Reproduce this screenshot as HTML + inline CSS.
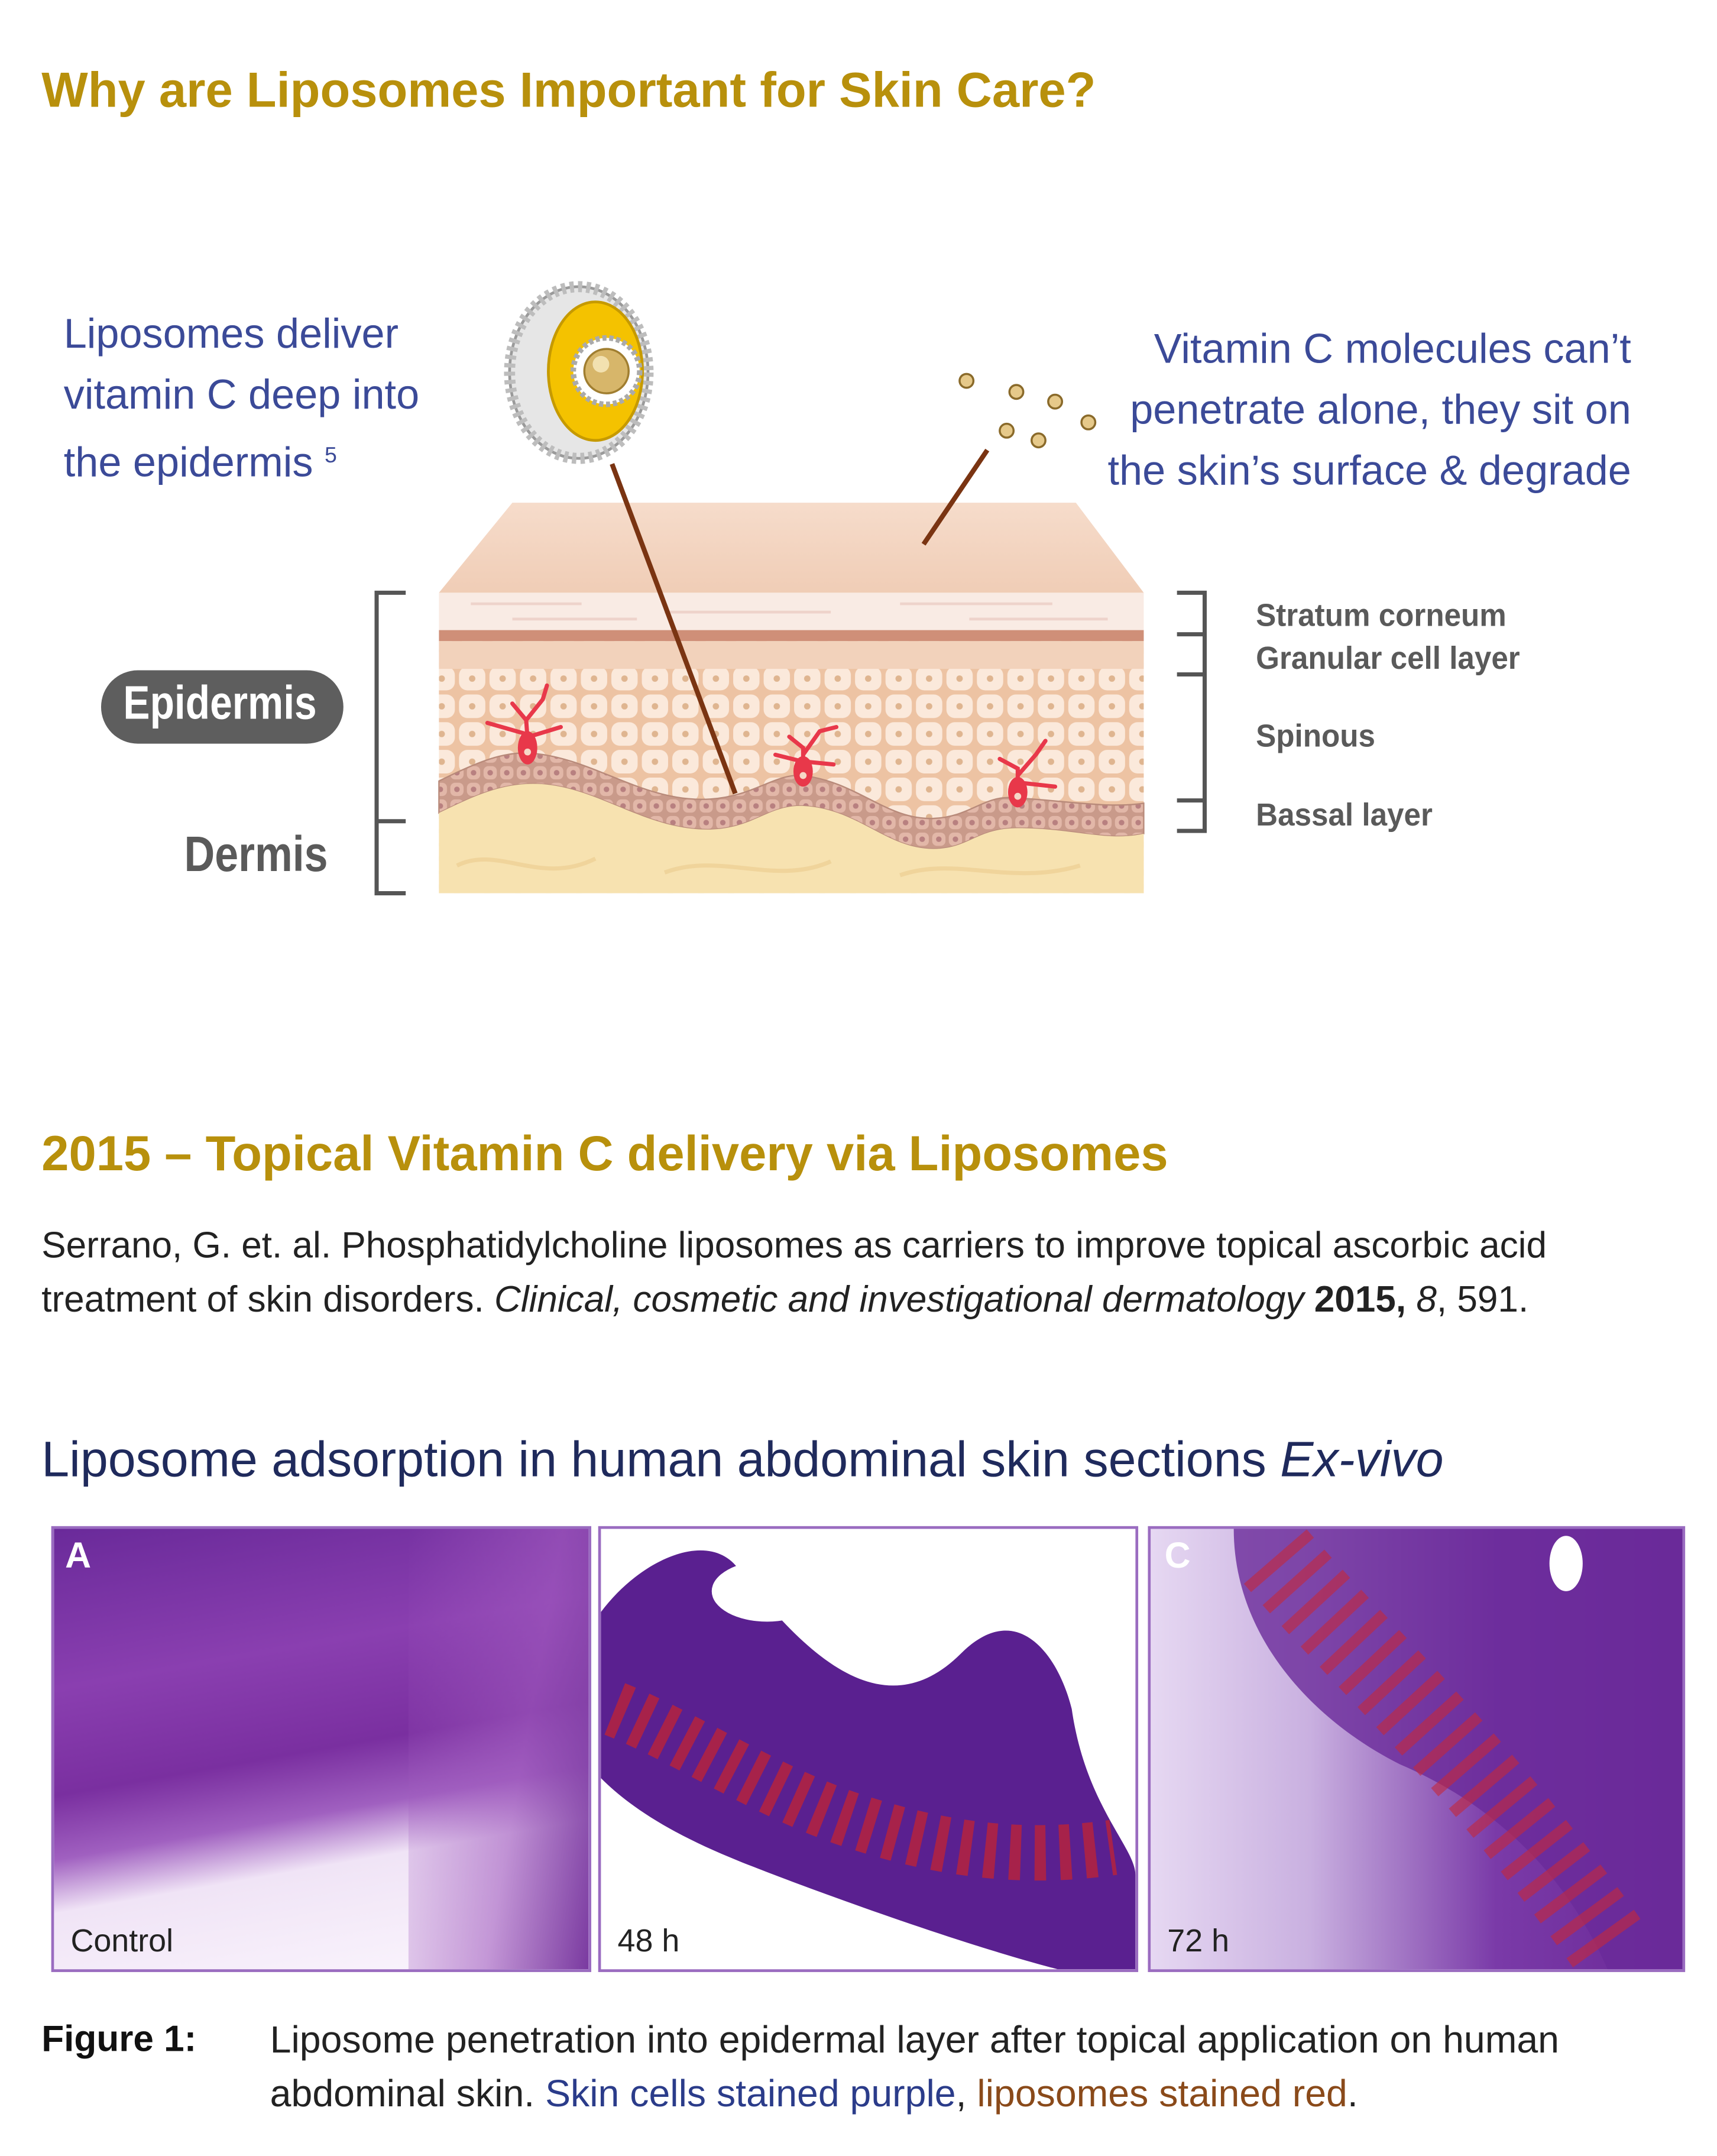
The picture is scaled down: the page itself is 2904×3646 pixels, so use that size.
<!DOCTYPE html>
<html><head><meta charset="utf-8"><style>
html,body{margin:0;padding:0;background:#fff;}
body{width:2904px;height:3645px;overflow:hidden;position:relative;}
#w{position:absolute;left:0;top:0;width:1240px;height:1557px;transform:scale(2.34194);transform-origin:0 0;font-family:"Liberation Sans","DejaVu Sans",sans-serif;}
.t{position:absolute;white-space:nowrap;}
.gold{color:#b8900c;font-weight:bold;font-size:35.5px;}
.blue{color:#3b4a98;font-size:30px;line-height:44px;}
.lab{color:#5a5a5a;font-weight:bold;font-size:23px;transform:scaleX(.95);transform-origin:0 0;}
.ph{position:absolute;border:2px solid #9a6cc0;overflow:hidden;}
.ph span{position:absolute;font-weight:bold;}
</style></head><body><div id="w">
<div class="t gold" style="left:30px;top:45px;">Why are Liposomes Important for Skin Care?</div>
<div class="t blue" style="left:46px;top:220px;">Liposomes deliver<br>vitamin C deep into<br>the epidermis <sup style="font-size:16px;vertical-align:10px">5</sup></div>
<div class="t blue" style="right:62px;top:231px;text-align:right;">Vitamin C molecules can’t<br>penetrate alone, they sit on<br>the skin’s surface &amp; degrade</div>

<svg style="position:absolute;left:0;top:0" width="1240" height="700" viewBox="0 0 1240 700">
<defs>
<linearGradient id="tf" x1="0" y1="0" x2="0" y2="1"><stop offset="0" stop-color="#f6dccb"/><stop offset="1" stop-color="#f0cdb6"/></linearGradient>
<pattern id="cells" width="22" height="20" patternUnits="userSpaceOnUse"><rect width="22" height="20" fill="#edc3a3"/><rect x="1.5" y="1.5" width="19" height="17" rx="6" fill="#fbe9db"/><circle cx="11" cy="10" r="2.3" fill="#dfb590"/></pattern>
<pattern id="basal" width="12" height="12" patternUnits="userSpaceOnUse"><rect width="12" height="12" fill="#c99a8a"/><rect x="1.2" y="1.2" width="9.6" height="9.6" rx="3.5" fill="#e2b7a8"/><circle cx="6" cy="6" r="2" fill="#b88080"/></pattern>
</defs>
<polygon points="317,428 826,428 777,363 370,363" fill="url(#tf)"/>
<rect x="317" y="428" width="509" height="27" fill="#f9ebe4"/>
<g stroke="#eed3cb" stroke-width="2"><line x1="340" y1="436" x2="420" y2="436"/><line x1="480" y1="442" x2="600" y2="442"/><line x1="650" y1="436" x2="760" y2="436"/><line x1="370" y1="447" x2="460" y2="447"/><line x1="700" y1="447" x2="800" y2="447"/></g>
<rect x="317" y="455" width="509" height="8" fill="#cf8f78"/>
<rect x="317" y="463" width="509" height="182" fill="url(#cells)"/>
<rect x="317" y="463" width="509" height="20" fill="#f2d2bb"/>
<path d="M317,564 C345,550 365,542 385,544 C430,548 465,580 513,577 C545,575 560,558 580,560 C620,565 640,592 674,591 C700,590 710,575 730,576 C770,578 800,584 826,580 V602 C800,608 775,598 735,598 C705,598 700,613 674,613 C640,613 620,584 580,582 C555,581 545,598 513,599 C465,600 430,566 385,566 C360,566 340,576 317,587 Z" fill="url(#basal)" stroke="#b88a7a" stroke-width="1"/>
<path d="M317,587 C340,576 360,566 385,566 C430,566 465,600 513,599 C545,598 555,581 580,582 C620,584 640,613 674,613 C700,613 705,598 735,598 C775,598 800,608 826,602 V645 H317 Z" fill="#f7e2b0"/>
<g stroke="#eccf93" stroke-width="3" fill="none" opacity=".7"><path d="M330,625 C360,610 390,640 430,620"/><path d="M480,630 C520,615 560,640 600,622"/><path d="M650,632 C690,618 730,640 780,625"/></g>
<g stroke="#e8384a" stroke-width="3" fill="none" stroke-linecap="round"><path d="M382,548 L380,520 L370,508 M380,520 L392,505 L395,495 M380,530 L352,522 M382,532 L405,525"/><path d="M580,563 L580,540 L570,532 M580,545 L592,528 M580,550 L560,545 M582,550 L602,552 M592,528 L604,525"/><path d="M735,578 L735,555 L722,548 M735,560 L748,545 L755,535 M735,565 L762,568"/></g>
<g fill="#e8384a"><ellipse cx="381" cy="540" rx="7" ry="12"/><ellipse cx="580" cy="557" rx="7" ry="11"/><ellipse cx="735" cy="572" rx="7" ry="11"/></g>
<g fill="#f6d7c7"><circle cx="381" cy="543" r="2.5"/><circle cx="580" cy="560" r="2.5"/><circle cx="735" cy="575" r="2.5"/></g>
<line x1="442" y1="335" x2="531" y2="573" stroke="#7a3412" stroke-width="3.5"/>
<line x1="713" y1="325" x2="667" y2="393" stroke="#7a3412" stroke-width="3.5"/>
<g fill="#e6c98a" stroke="#8a6a2a" stroke-width="1.5"><circle cx="698" cy="275" r="5"/><circle cx="734" cy="283" r="5"/><circle cx="762" cy="290" r="5"/><circle cx="786" cy="305" r="5"/><circle cx="727" cy="311" r="5"/><circle cx="750" cy="318" r="5"/></g>
<ellipse cx="418" cy="269" rx="50" ry="62" fill="#e6e6e6" stroke="#9a9a9a" stroke-width="2"/>
<ellipse cx="418" cy="269" rx="50" ry="62" fill="none" stroke="#bdbdbd" stroke-width="8" stroke-dasharray="3 3"/>
<ellipse cx="430" cy="268" rx="34" ry="50" fill="#f4c200" stroke="#c69a00" stroke-width="2"/>
<circle cx="438" cy="268" r="24" fill="#fff" stroke="#aaa" stroke-width="4" stroke-dasharray="3 2"/>
<circle cx="438" cy="268" r="16" fill="#d7b66a" stroke="#a07e30" stroke-width="1.5"/>
<circle cx="434" cy="263" r="6" fill="#f2e1b0"/>
<g stroke="#555" stroke-width="3" fill="none">
<path d="M293,428 H272 V645 H293"/><path d="M272,593 H293"/>
<path d="M850,428 H870 V600 H850"/><path d="M850,458 H870"/><path d="M850,487 H870"/><path d="M850,578 H870"/>
</g>
<rect x="73" y="484" width="175" height="53" rx="26.5" fill="#5e5e5e"/>
</svg>
<div class="t" style="left:89px;top:489px;color:#fff;font-weight:bold;font-size:34px;transform:scaleX(.85);transform-origin:0 0;">Epidermis</div>
<div class="t" style="left:133px;top:596px;color:#5a5a5a;font-weight:bold;font-size:36px;transform:scaleX(.85);transform-origin:0 0;">Dermis</div>
<div class="t lab" style="left:907px;top:431px;">Stratum corneum</div>
<div class="t lab" style="left:907px;top:462px;">Granular cell layer</div>
<div class="t lab" style="left:907px;top:518px;">Spinous</div>
<div class="t lab" style="left:907px;top:575px;">Bassal layer</div>

<div class="t gold" style="left:30px;top:813px;">2015 – Topical Vitamin C delivery via Liposomes</div>
<div class="t" style="left:30px;top:880px;font-size:26.5px;line-height:39px;color:#222;">Serrano, G. et. al. Phosphatidylcholine liposomes as carriers to improve topical ascorbic acid<br>treatment of skin disorders. <i>Clinical, cosmetic and investigational dermatology</i> <b>2015,</b> <i>8</i>, 591.</div>
<div class="t" style="left:30px;top:1033px;font-size:36px;color:#1f2a5c;">Liposome adsorption in human abdominal skin sections <i>Ex-vivo</i></div>

<div class="ph" style="left:37px;top:1102px;width:386px;height:318px;background:linear-gradient(170deg,#6a2a9a 0%,#8a3fb0 30%,#7a2fa0 50%,#a060c0 62%,#f0e4f6 72%,#fbf6fd 100%);">
<div style="position:absolute;right:0;top:0;width:130px;height:318px;background:linear-gradient(100deg,rgba(255,255,255,0) 0%,rgba(160,90,190,.6) 60%,#7a3aa0 100%);"></div>
<span style="left:8px;top:4px;color:#fff;font-size:26px;">A</span><span style="left:12px;top:284px;color:#222;font-size:23px;font-weight:normal;">Control</span></div>
<div class="ph" style="left:432px;top:1102px;width:386px;height:318px;background:#fff;">
<svg width="386" height="318" style="position:absolute;left:0;top:0"><path d="M0,60 C30,20 80,0 100,30 C140,80 200,150 260,90 C300,50 330,90 340,130 C350,200 386,230 386,250 V318 H330 C260,300 150,260 100,240 C50,220 20,200 0,180 Z" fill="#5a2090"/><path d="M10,130 C60,150 120,190 180,210 C240,230 300,240 370,230" stroke="#c8242c" stroke-width="40" stroke-dasharray="8 10" fill="none" opacity=".7"/><ellipse cx="120" cy="45" rx="40" ry="22" fill="#fff"/></svg>
<span style="left:8px;top:4px;color:#fff;font-size:26px;">B</span><span style="left:12px;top:284px;color:#222;font-size:23px;font-weight:normal;">48 h</span></div>
<div class="ph" style="left:829px;top:1102px;width:384px;height:318px;background:linear-gradient(90deg,#e6d8f2 0%,#c9b0e0 30%,#7a3aa8 65%,#6a2896 100%);">
<svg width="384" height="318" style="position:absolute;left:0;top:0"><path d="M60,0 H384 V318 H330 C300,250 250,200 180,170 C120,140 60,80 60,0 Z" fill="#6a2a9a" opacity=".8"/><path d="M90,20 C150,90 230,160 330,300" stroke="#c4283a" stroke-width="60" stroke-dasharray="8 12" fill="none" opacity=".6"/><ellipse cx="300" cy="25" rx="12" ry="20" fill="#fff"/></svg>
<span style="left:10px;top:4px;color:#fff;font-size:26px;">C</span><span style="left:12px;top:284px;color:#222;font-size:23px;font-weight:normal;">72 h</span></div>

<div class="t" style="left:30px;top:1457px;font-size:26.5px;font-weight:bold;color:#111;">Figure 1:</div>
<div class="t" style="left:195px;top:1453px;font-size:27.5px;line-height:39px;color:#222;">Liposome penetration into epidermal layer after topical application on human<br>abdominal skin. <span style="color:#2b3c8a">Skin cells stained purple</span>, <span style="color:#8a4a1a">liposomes stained red</span>.</div>
</div></body></html>
